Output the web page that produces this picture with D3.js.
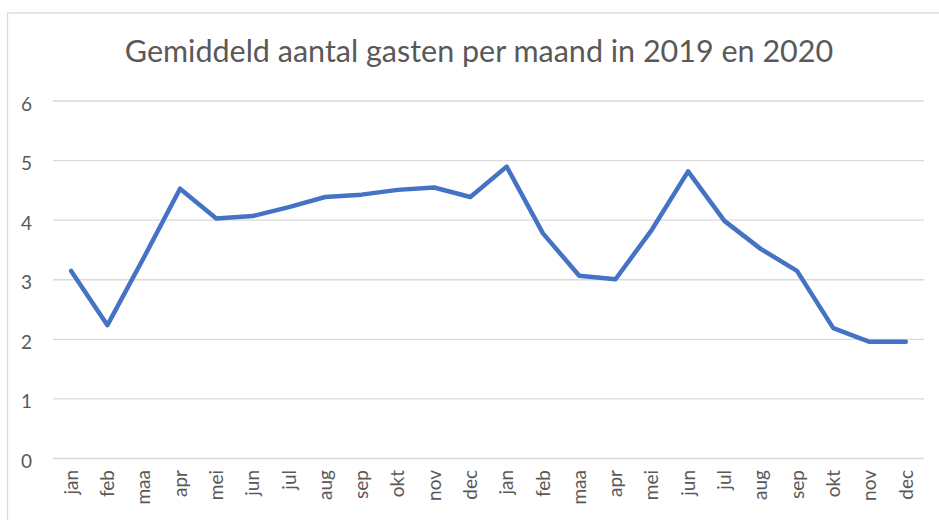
<!DOCTYPE html>
<html>
<head>
<meta charset="utf-8">
<script src="https://cdn.jsdelivr.net/npm/d3@7"></script>
<style>
  body { margin: 0; background: #fff; }
  svg { display: block; font-family: Lato, 'Open Sans', sans-serif; }
</style>
</head>
<body>
<div class="canvas"></div>
<script>
// data
const months = ['jan', 'feb', 'maa', 'apr', 'mei', 'jun', 'jul', 'aug', 'sep', 'okt', 'nov', 'dec',
  'jan', 'feb', 'maa', 'apr', 'mei', 'jun', 'jul', 'aug', 'sep', 'okt', 'nov', 'dec'];
const guests = [3.14, 2.23, 3.36, 4.52, 4.02, 4.06, 4.21, 4.38, 4.42, 4.50, 4.54, 4.38,
  4.89, 3.77, 3.06, 3.00, 3.83, 4.81, 3.98, 3.51, 3.14, 2.18, 1.95, 1.95];
const yTicks = [0, 1, 2, 3, 4, 5, 6];
const title = 'Gemiddeld aantal gasten per maand in 2019 en 2020';

const width = 939;
const height = 520;
const margin = { top: 100.5, right: 15, bottom: 62, left: 53 };
const graphWidth = width - margin.left - margin.right;
const graphHeight = height - margin.top - margin.bottom;

const svg = d3
  .select('.canvas')
  .append('svg')
  .attr('width', width)
  .attr('height', height);

// chart border (runs off the page on the right and bottom)
svg
  .append('rect')
  .attr('x', 7.5)
  .attr('y', 13)
  .attr('width', width + 20)
  .attr('height', height + 20)
  .attr('fill', 'none')
  .attr('stroke', '#d9d9d9')
  .attr('stroke-width', 1.3);

svg
  .append('text')
  .attr('x', 479)
  .attr('y', 62)
  .attr('text-anchor', 'middle')
  .attr('fill', '#595959')
  .attr('font-size', 30.5)
  .text(title);

const graph = svg
  .append('g')
  .attr('transform', `translate(${margin.left}, ${margin.top})`);

// scales
const x = d3.scaleBand().domain(d3.range(months.length)).range([0, graphWidth]);
const y = d3.scaleLinear().domain([0, 6]).range([graphHeight, 0]);

// gridlines + y labels
const yAxis = d3
  .axisLeft(y)
  .tickValues(yTicks)
  .tickFormat(d3.format('d'))
  .tickSize(-graphWidth)
  .tickPadding(21);

const yAxisGroup = graph.append('g').attr('class', 'y-axis').call(yAxis);
yAxisGroup.select('.domain').remove();
yAxisGroup
  .selectAll('line')
  .attr('stroke', '#d9d9d9')
  .attr('stroke-width', 1.3);
yAxisGroup
  .selectAll('text')
  .attr('fill', '#595959')
  .attr('font-size', 19)
  .attr('font-family', 'Lato, sans-serif')
  .attr('dy', '0.5em');

// x labels
const xAxis = d3
  .axisBottom(x)
  .tickSize(0)
  .tickFormat(i => months[i]);

const xAxisGroup = graph
  .append('g')
  .attr('class', 'x-axis')
  .attr('transform', `translate(0, ${graphHeight})`)
  .call(xAxis);
xAxisGroup.select('.domain').remove();
xAxisGroup
  .selectAll('text')
  .attr('fill', '#595959')
  .attr('font-size', 19)
  .attr('font-family', 'Lato, sans-serif')
  .attr('transform', 'rotate(-90)')
  .attr('text-anchor', 'end')
  .attr('x', -12)
  .attr('y', 0)
  .attr('dy', '0.35em');

// line
const line = d3
  .line()
  .x((d, i) => x(i) + x.bandwidth() / 2)
  .y(d => y(d));

graph
  .append('path')
  .datum(guests)
  .attr('fill', 'none')
  .attr('stroke', '#4472c4')
  .attr('stroke-width', 4.5)
  .attr('stroke-linejoin', 'round')
  .attr('stroke-linecap', 'round')
  .attr('d', line);
</script>
</body>
</html>
